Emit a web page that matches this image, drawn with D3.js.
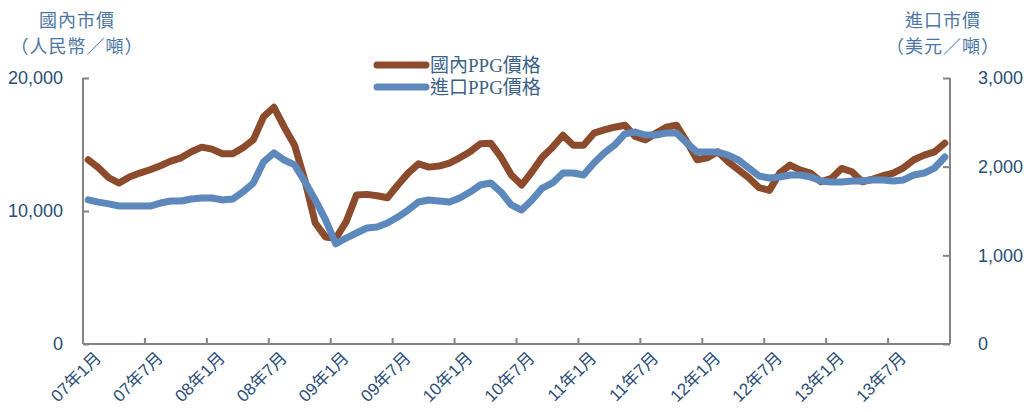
<!DOCTYPE html>
<html>
<head>
<meta charset="utf-8">
<script src="https://cdn.jsdelivr.net/npm/d3@7"></script>
<style>
  body { margin: 0; background: #fff; }
  svg { display: block; }
</style>
</head>
<body>
<div id="chart"></div>
<script>
// months Jan 2007 .. Dec 2013
const months = [];
for (let y = 7; y <= 13; y++)
  for (let m = 1; m <= 12; m++)
    months.push((y < 10 ? "0" + y : "" + y) + "年" + m + "月");

// 國內PPG價格 (人民幣/噸), left axis
const domestic = [
  13850, 13250, 12500, 12100, 12550, 12850, 13100, 13400, 13750, 14000, 14450, 14800,
  14650, 14300, 14300, 14750, 15350, 17100, 17800, 16300, 14950, 12300, 9100, 8050,
  7950, 9200, 11200, 11250, 11150, 11000, 11950, 12850, 13550, 13300, 13380, 13600,
  14000, 14450, 15050, 15100, 14050, 12700, 11950, 12950, 14050, 14800, 15700, 14950,
  14950, 15850, 16100, 16300, 16450, 15600, 15350, 15850, 16300, 16450, 15200, 13850,
  14000, 14450, 13700, 13100, 12500, 11750, 11550, 12850, 13450, 13080, 12850, 12200,
  12450, 13200, 12950, 12200, 12400, 12650, 12850, 13250, 13850, 14200, 14450, 15100
];

// 進口PPG價格 (美元/噸), right axis
const imported = [
  1625, 1600, 1580, 1556, 1556, 1556, 1556, 1590, 1613, 1613, 1635, 1647,
  1647, 1625, 1635, 1715, 1815, 2055, 2155, 2075, 2020, 1830, 1625, 1400,
  1130, 1195, 1252, 1308, 1320, 1365, 1432, 1511, 1601, 1624, 1613, 1601,
  1647, 1714, 1793, 1816, 1714, 1568, 1511, 1624, 1759, 1816, 1928, 1928,
  1906, 2041, 2154, 2244, 2370, 2391, 2357, 2357, 2380, 2380, 2267, 2165,
  2165, 2165, 2131, 2075, 1985, 1895, 1872, 1883, 1906, 1906, 1883, 1838,
  1827, 1827, 1838, 1838, 1850, 1850, 1838, 1850, 1906, 1928, 1985, 2109
];

const leftTicks = [0, 10000, 20000];
const rightTicks = [0, 1000, 2000, 3000];
const seriesNames = ["國內PPG價格", "進口PPG價格"];
const colors = ["#8b4b2c", "#5d88bb"];

const W = 1030, H = 412;
const plot = {left: 83, right: 950, top: 78, bottom: 344};

const svg = d3.select("#chart").append("svg")
  .attr("width", W).attr("height", H);

const x = d3.scaleBand().domain(months).range([plot.left, plot.right]);
const yL = d3.scaleLinear().domain([0, 20000]).range([plot.bottom, plot.top]);
const yR = d3.scaleLinear().domain([0, 3000]).range([plot.bottom, plot.top]);

const axisColor = "#848484";
const labelColor = "#2b4d76";
const sansFont = "'Liberation Sans', Arial, 'Noto Sans CJK TC', sans-serif";
const serifFont = "'Liberation Serif', 'Times New Roman', 'Noto Sans CJK TC', serif";

// left axis
const gL = svg.append("g").attr("transform", "translate(" + plot.left + ",0)")
  .call(d3.axisLeft(yL).tickValues(leftTicks).tickSize(-6).tickPadding(20)
    .tickFormat(d3.format(",")));
// right axis
const gR = svg.append("g").attr("transform", "translate(" + plot.right + ",0)")
  .call(d3.axisRight(yR).tickValues(rightTicks).tickSize(-7).tickPadding(28)
    .tickFormat(d3.format(",")));
// bottom axis: ticks every 6 months at category boundaries
const gB = svg.append("g").attr("transform", "translate(0," + plot.bottom + ")");
gB.append("line").attr("x1", plot.left).attr("x2", plot.right)
  .attr("stroke", axisColor).attr("stroke-width", 2);
gB.selectAll("line.tk")
  .data(months.filter((d, i) => i % 6 === 0 && i > 0))
  .enter().append("line").attr("class", "tk")
  .attr("x1", d => x(d)).attr("x2", d => x(d))
  .attr("y1", 0).attr("y2", -6)
  .attr("stroke", axisColor).attr("stroke-width", 2);
gB.selectAll("text")
  .data(months.filter((d, i) => i % 6 === 0))
  .enter().append("text")
  .attr("transform", d => "translate(" + (x(d) + x.bandwidth() / 2 + 14) + ",15) rotate(-45)")
  .attr("text-anchor", "end")
  .attr("font-family", sansFont)
  .attr("font-size", 17)
  .attr("fill", labelColor)
  .text(d => d);

[gL, gR].forEach(g => {
  g.select(".domain").attr("stroke", axisColor).attr("stroke-width", 2)
    .attr("d", "M0," + plot.top + "V" + plot.bottom);
  g.selectAll(".tick line").attr("stroke", axisColor).attr("stroke-width", 2);
  g.selectAll(".tick text")
    .attr("font-family", sansFont).attr("font-size", 18)
    .attr("fill", labelColor);
});

// lines
const cx = (d, i) => x(months[i]) + x.bandwidth() / 2;
svg.append("path").datum(domestic)
  .attr("fill", "none").attr("stroke", colors[0]).attr("stroke-width", 7)
  .attr("stroke-linejoin", "round").attr("stroke-linecap", "round")
  .attr("d", d3.line().x(cx).y(d => yL(d)));
svg.append("path").datum(imported)
  .attr("fill", "none").attr("stroke", colors[1]).attr("stroke-width", 7)
  .attr("stroke-linejoin", "round").attr("stroke-linecap", "round")
  .attr("d", d3.line().x(cx).y(d => yR(d)));

// axis titles
const titleColor = "#4d76a3";
function title(cxp, lines) {
  lines.forEach((t, k) => {
    svg.append("text").attr("x", cxp).attr("y", 27 + k * 26)
      .attr("text-anchor", "middle")
      .attr("font-family", serifFont).attr("font-size", 18)
      .attr("letter-spacing", 1)
      .attr("fill", titleColor).text(t);
  });
}
title(77, ["國內市價", "（人民幣／噸）"]);
title(943, ["進口市價", "（美元／噸）"]);

// legend
seriesNames.forEach((name, k) => {
  const ly = 65 + k * 22;
  svg.append("line").attr("x1", 377).attr("x2", 426)
    .attr("y1", ly).attr("y2", ly)
    .attr("stroke", colors[k]).attr("stroke-width", 7)
    .attr("stroke-linecap", "round");
  svg.append("text").attr("x", 430).attr("y", ly + 7)
    .attr("font-family", serifFont).attr("font-size", 19)
    .attr("fill", "#3c5f88").text(name);
});
</script>
</body>
</html>
